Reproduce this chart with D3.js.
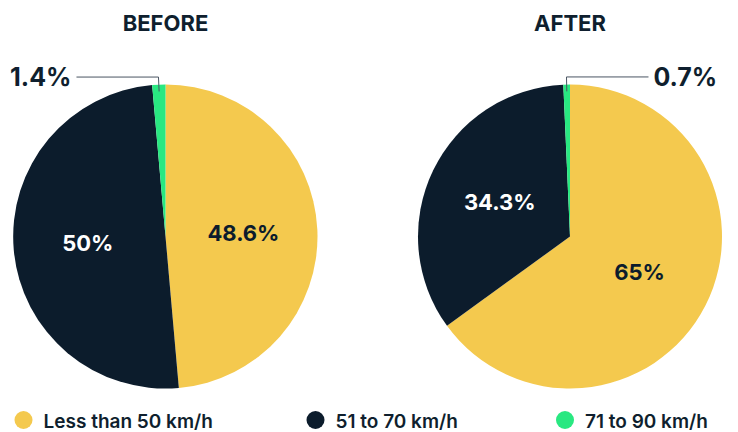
<!DOCTYPE html>
<html>
<head>
<meta charset="utf-8">
<script src="https://cdn.jsdelivr.net/npm/d3@7"></script>
<style>
  body { margin: 0; background: #fff; }
  text { font-family: Inter, "Noto Sans", sans-serif; }
</style>
</head>
<body>
<div id="chart"></div>
<script>
// data
const categories = ['Less than 50 km/h', '51 to 70 km/h', '71 to 90 km/h'];
const panels = ['BEFORE', 'AFTER'];
const beforeValues = [48.6, 50, 1.4];
const afterValues = [65, 34.3, 0.7];
const labels = [['48.6%', '50%', '1.4%'], ['65%', '34.3%', '0.7%']];
const calloutSide = [-1, 1]; // which way the small-slice label goes

const colors = ['#f4c94e', '#0c1c2c', '#29e881'];
const textColors = ['#0c1c2c', '#ffffff', '#0c1c2c'];

const width = 738, height = 432;
const radius = 152;

const svg = d3.create('svg')
  .attr('width', width)
  .attr('height', height);

const color = d3.scaleOrdinal().domain(categories).range(colors);

const xPos = d3.scalePoint()
  .domain(panels)
  .range([165.5, 570]);

const pie = d3.pie().sort(null).value(d => d.value);
const arc = d3.arc().innerRadius(0).outerRadius(radius);
const labelArc = d3.arc().innerRadius(78).outerRadius(78);

[beforeValues, afterValues].forEach((vals, pi) => {
  const data = vals.map((v, i) => ({ cat: categories[i], value: v, label: labels[pi][i], idx: i }));
  const cx = xPos(panels[pi]), cy = 236.5;

  svg.append('text')
    .attr('x', cx)
    .attr('y', 31)
    .attr('text-anchor', 'middle')
    .attr('font-size', 22)
    .attr('font-weight', 700)
    .attr('fill', '#0f1f2e')
    .text(panels[pi]);

  const g = svg.append('g').attr('transform', `translate(${cx},${cy})`);
  const arcs = pie(data);

  g.selectAll('path')
    .data(arcs)
    .enter()
    .append('path')
      .attr('d', arc)
      .attr('fill', d => color(d.data.cat));

  // big slices: label inside
  g.selectAll('text.inner')
    .data(arcs.filter(d => d.data.value >= 5))
    .enter()
    .append('text')
      .attr('class', 'inner')
      .attr('transform', d => `translate(${labelArc.centroid(d)})`)
      .attr('text-anchor', 'middle')
      .attr('dy', '0.35em')
      .attr('font-size', 22)
      .attr('font-weight', 700)
      .attr('fill', d => textColors[d.data.idx])
      .text(d => d.data.label);

  // small slices: leader line + outside label
  arcs.filter(d => d.data.value < 5).forEach(d => {
    const mid = (d.startAngle + d.endAngle) / 2;
    const p0 = [Math.sin(mid) * radius * 0.955, -Math.cos(mid) * radius * 0.955];
    const p1 = [Math.sin(mid) * radius * 1.05, -Math.cos(mid) * radius * 1.05];
    const side = calloutSide[pi];
    const p2 = [p1[0] + side * 82, p1[1]];
    g.append('polyline')
      .attr('points', [p0, p1, p2].map(p => p.join(',')).join(' '))
      .attr('fill', 'none')
      .attr('stroke', '#4a5562')
      .attr('stroke-width', 1);
    g.append('text')
      .attr('x', p2[0] + side * 5)
      .attr('y', p2[1])
      .attr('dy', '0.35em')
      .attr('text-anchor', side < 0 ? 'end' : 'start')
      .attr('font-size', 25)
      .attr('font-weight', 700)
      .attr('fill', '#0f1f2e')
      .text(d.data.label);
  });
});

// legend
const legendX = d3.scaleOrdinal().domain(categories).range([23.5, 315.5, 565]);
const lg = svg.append('g').selectAll('g')
  .data(categories)
  .enter()
  .append('g')
    .attr('transform', d => `translate(${legendX(d)},420)`);

lg.append('circle')
  .attr('r', 9)
  .attr('fill', d => color(d));

lg.append('text')
  .attr('x', 20)
  .attr('y', 8)
  .attr('font-size', 19)
  .attr('font-weight', 600)
  .attr('fill', '#0f1f2e')
  .text(d => d);

d3.select('#chart').node().appendChild(svg.node());
</script>
</body>
</html>
